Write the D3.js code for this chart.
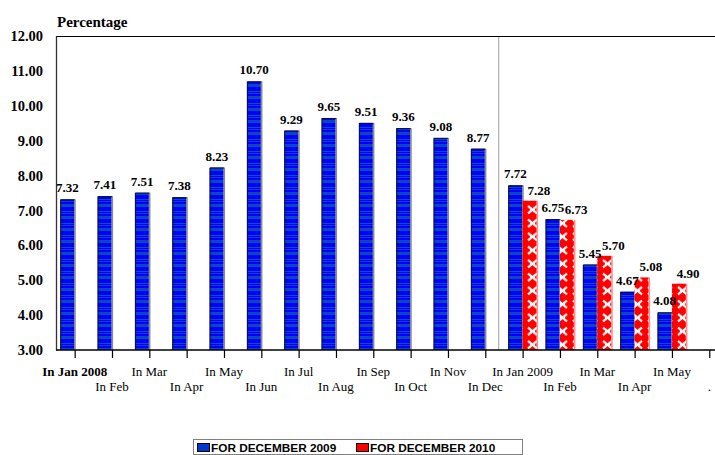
<!DOCTYPE html>
<html><head><meta charset="utf-8">
<script src="https://cdn.jsdelivr.net/npm/d3@7"></script>
<style>body{margin:0;background:#fff;}svg{display:block;}</style>
</head><body>
<svg id="c" width="715" height="455"></svg>
<script>
const categories = ["In Jan 2008","In Feb","In Mar","In Apr","In May","In Jun","In Jul","In Aug","In Sep","In Oct","In Nov","In Dec","In Jan 2009","In Feb","In Mar","In Apr","In May","."];
const seriesDec2009 = [7.32,7.41,7.51,7.38,8.23,10.70,9.29,9.65,9.51,9.36,9.08,8.77,7.72,6.75,5.45,4.67,4.08,null];
const seriesDec2010 = [null,null,null,null,null,null,null,null,null,null,null,null,7.28,6.73,5.70,5.08,4.90,null];
const seriesNames = ["FOR DECEMBER 2009","FOR DECEMBER 2010"];
const yTicks = [3,4,5,6,7,8,9,10,11,12];

(function(){
const svg = d3.select("#c");
const serif = "'Liberation Serif','Times New Roman',serif";
const sans = "'Liberation Sans',Arial,sans-serif";

const defs = svg.append("defs");
const pb = defs.append("pattern").attr("id","pblue").attr("patternUnits","userSpaceOnUse").attr("width",20).attr("height",12);
pb.append("rect").attr("width",20).attr("height",12).attr("fill","#0000ff");
pb.append("rect").attr("y",0).attr("width",20).attr("height",3).attr("fill","#0846c2");
pb.append("rect").attr("y",7).attr("width",20).attr("height",1).attr("fill","#0a4ac4");
pb.append("rect").attr("y",9).attr("width",20).attr("height",1).attr("fill","#0a40c8");
const pr = defs.append("pattern").attr("id","pred").attr("patternUnits","userSpaceOnUse").attr("width",15).attr("height",13.5);
pr.append("rect").attr("width",15).attr("height",13.5).attr("fill","#ff0000");
pr.append("path").attr("d","M3,3.5 L12,11 M12,3.5 L3,11").attr("stroke","#fff").attr("stroke-width",2.2);
pr.append("rect").attr("x",5).attr("y",6.5).attr("width",5).attr("height",1.5).attr("fill","#fff");

const pLeft = 56, pTop = 36, pBottom = 350;
const step = 37.33;
const x = d3.scalePoint().domain(d3.range(categories.length)).range([pLeft, pLeft + step*categories.length]).padding(0.5);
const y = d3.scaleLinear().domain([3,12]).range([pBottom, pTop]);
const bw = 14.4;

const sepX = x(11) + step*0.36;
svg.append("line").attr("x1",sepX).attr("x2",sepX).attr("y1",pTop).attr("y2",pBottom).attr("stroke","#a0a0a0").attr("stroke-width",1);

svg.append("line").attr("x1",pLeft).attr("x2",715).attr("y1",pTop+0.5).attr("y2",pTop+0.5).attr("stroke","#000").attr("stroke-width",1.2);

const g = svg.append("g");
function drawBars(vals, cls, fill, dx, shadow, edge){
  const data = vals.map((v,i)=>({v,i})).filter(d=>d.v!=null);
  g.selectAll("rect."+cls+"s").data(data).enter().append("rect")
    .attr("class",cls+"s")
    .attr("x",d=>x(d.i)+dx+bw-0.5).attr("y",d=>y(d.v)).attr("width",1.6).attr("height",d=>pBottom-y(d.v))
    .attr("fill",shadow);
  g.selectAll("rect."+cls).data(data).enter().append("rect")
    .attr("class",cls)
    .attr("x",d=>x(d.i)+dx).attr("y",d=>y(d.v)).attr("width",bw-0.5).attr("height",d=>pBottom-y(d.v))
    .attr("fill",fill);
  if(edge){
    g.selectAll("path."+cls+"e").data(data).enter().append("path")
      .attr("class",cls+"e")
      .attr("d",d=>`M${x(d.i)+dx+0.5},${pBottom} V${y(d.v)+0.5} H${x(d.i)+dx+bw}`)
      .attr("fill","none").attr("stroke",edge).attr("stroke-width",1);
  }
}
drawBars(seriesDec2009,"b1","url(#pblue)",-bw,"#8a8a8a","#101030");
drawBars(seriesDec2010,"b2","url(#pred)",0,"#ff9090",null);

const fmt = d3.format(".2f");
svg.append("g").selectAll("text").data(seriesDec2009.map((v,i)=>({v,i})).filter(d=>d.v!=null)).enter().append("text")
  .attr("x",d=>x(d.i)-bw/2).attr("y",d=>y(d.v)-7).attr("text-anchor","middle")
  .attr("font-family",serif).attr("font-weight","bold").attr("font-size",13).text(d=>fmt(d.v));
svg.append("g").selectAll("text").data(seriesDec2010.map((v,i)=>({v,i})).filter(d=>d.v!=null)).enter().append("text")
  .attr("x",d=>x(d.i)+bw/2+9).attr("y",d=>y(d.v)-6).attr("text-anchor","middle")
  .attr("font-family",serif).attr("font-weight","bold").attr("font-size",13).text(d=>fmt(d.v));

const ya = svg.append("g").attr("transform",`translate(${pLeft},0)`)
  .call(d3.axisLeft(y).tickValues(yTicks).tickSize(0).tickPadding(13).tickFormat(d3.format(".2f")));
ya.select(".domain").attr("stroke","#333").attr("stroke-width",1.3);
ya.selectAll("text").attr("font-family",serif).attr("font-weight","bold").attr("font-size",14.5).attr("fill","#000");

const xa = svg.append("g").attr("transform",`translate(0,${pBottom})`)
  .call(d3.axisBottom(x).tickSize(8).tickFormat(""));
xa.select(".domain").remove();
xa.selectAll(".tick line").attr("stroke","#000").attr("stroke-width",1.2);
svg.append("line").attr("x1",pLeft).attr("x2",715).attr("y1",pBottom).attr("y2",pBottom).attr("stroke","#000").attr("stroke-width",1.3);

svg.append("g").selectAll("text").data(categories).enter().append("text")
  .attr("x",(d,i)=>x(i)).attr("y",(d,i)=>i%2===0 ? 376 : 391)
  .attr("text-anchor","middle").attr("font-family",serif).attr("font-size",13)
  .attr("font-weight",(d,i)=>i===0?"bold":"normal").attr("fill","#000").text(d=>d);

svg.append("text").attr("x",57).attr("y",27).attr("font-family",serif).attr("font-weight","bold").attr("font-size",15).text("Percentage");

const lg = svg.append("g");
lg.append("rect").attr("x",193.5).attr("y",439.5).attr("width",329).attr("height",15).attr("fill","#fff").attr("stroke","#808080");
const legendItems = [{name:seriesNames[0],fill:"#0038d0",sx:197,tx:211},{name:seriesNames[1],fill:"#ff0000",sx:356,tx:370}];
legendItems.forEach(it=>{
  lg.append("rect").attr("x",it.sx+0.5).attr("y",443.5).attr("width",12).attr("height",8).attr("fill",it.fill).attr("stroke","#000").attr("stroke-width",1);
  lg.append("text").attr("x",it.tx).attr("y",452).attr("font-family",sans).attr("font-weight","bold").attr("font-size",11.8).text(it.name);
});
})();
</script>
</body></html>
